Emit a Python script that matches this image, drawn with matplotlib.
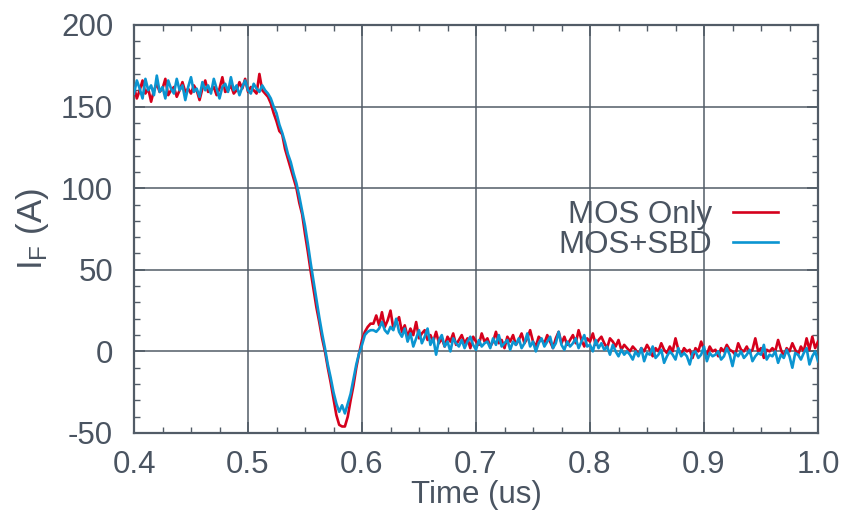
import numpy as np
import matplotlib
matplotlib.use("Agg")
import matplotlib.pyplot as plt

# time base: 0.4 .. 1.0 us, 241 samples
t_start, t_end, n_pts = 0.4, 1.0, 241

mos_only = [
    162,155,160,166,158,161,153,160,164,159,
    161,167,157,160,162,156,160,165,159,161,
    158,163,160,154,161,166,159,160,162,157,
    161,168,159,160,163,158,160,165,161,167,
    159,162,160,158,170,160,
    158,156,152,146,141,135,133,124,118,112,
    106,100,91,84,72,61,49,38,27,18,
    8,0,-10,-19,-29,-39,-45,-46,-46,-40,
    -30,-21,-10,-1,7,12,15,17,
    17,22,16,24,15,19,25,14,18,21,
    12,16,9,14,10,18,8,11,13,7,
    10,6,12,5,8,3,9,6,11,4,
    7,10,5,8,2,9,6,4,11,6,
    8,3,6,12,5,7,2,9,6,10,
    4,7,11,5,8,13,6,3,9,7,
    5,10,6,2,8,12,5,9,4,7,
    10,5,13,7,3,8,6,11,4,7,
    9,5,2,8,6,3,7,1,4,2,
    0,3,1,-2,2,0,4,1,-3,2,
    0,5,1,-1,3,0,8,1,-2,2,
    0,1,-4,2,0,6,1,-2,3,0,
    1,-3,2,0,4,1,0,-2,5,1,
    0,3,-1,1,8,0,2,-4,1,0,
    2,0,7,1,-3,2,0,5,1,-2,
    3,0,8,1,9,2,6,
]

mos_sbd = [
    158,166,161,155,167,160,163,157,169,159,
    162,155,166,161,158,167,160,163,154,162,
    168,159,161,156,165,160,163,158,167,161,
    155,162,164,159,168,160,163,157,162,166,
    160,158,164,161,159,163,
    160,158,155,150,146,139,134,128,121,116,
    109,103,95,86,77,66,54,43,32,21,
    11,2,-8,-16,-25,-32,-37,-33,-38,-32,
    -26,-17,-8,-1,4,10,12,13,
    13,12,14,18,13,11,15,13,20,12,
    9,14,6,11,3,8,13,5,9,14,
    4,8,-2,7,10,3,6,0,8,5,
    3,7,2,6,9,4,1,7,3,5,
    6,2,8,4,10,3,5,7,1,6,
    4,8,2,5,11,3,6,0,5,8,
    3,6,9,2,5,12,4,1,6,3,
    5,8,2,6,10,3,4,0,7,2,
    5,1,3,-2,4,0,-3,1,-2,0,
    -2,-5,0,-3,2,-6,-1,-2,3,-4,
    -2,1,-7,-3,0,-2,-5,2,-3,-1,
    -3,-8,-1,0,-4,-2,3,-6,-1,-3,
    -2,0,-5,-3,2,-2,-9,-1,-3,0,
    -4,-2,1,-6,-3,-1,-2,4,-5,-2,
    -3,0,-7,-2,-4,1,-3,-10,-1,-2,
    -5,-1,2,-8,-3,0,-6,
]

series_labels = ["MOS Only", "MOS+SBD"]
x_ticks = [0.4, 0.5, 0.6, 0.7, 0.8, 0.9, 1.0]
x_tick_labels = ["0.4", "0.5", "0.6", "0.7", "0.8", "0.9", "1.0"]
y_ticks = [-50, 0, 50, 100, 150, 200]

time = np.linspace(t_start, t_end, n_pts)

TXT = "#4a5461"
GRID = "#525c67"
RED = "#d5001c"
BLUE = "#0b95d1"

plt.rcParams['font.family'] = ['Liberation Sans', 'DejaVu Sans']
plt.rcParams['axes.unicode_minus'] = False

fig = plt.figure(figsize=(8.43, 5.14), dpi=100)
ax = fig.add_axes([134/843, 1-433/514, (818-134)/843, (433-25)/514])

ax.plot(time, mos_only, color=RED, lw=1.9, label=series_labels[0], zorder=3)
ax.plot(time, mos_sbd, color=BLUE, lw=1.9, label=series_labels[1], zorder=4)

ax.set_xlim(0.4, 1.0)
ax.set_ylim(-50, 200)
ax.set_xticks(x_ticks)
ax.set_xticklabels(x_tick_labels)
ax.set_yticks(y_ticks)
ax.set_xticks(np.arange(0.4, 1.0001, 0.025), minor=True)
ax.set_yticks(np.arange(-50, 200.1, 10), minor=True)

ax.grid(True, which='major', color=GRID, lw=1.1)
ax.set_axisbelow(True)
for s in ax.spines.values():
    s.set_color(GRID)
    s.set_linewidth(1.6)

ax.tick_params(which='both', direction='in', top=True, right=True, colors=GRID,
               labelcolor=TXT, labelsize=22.5)
ax.tick_params(which='major', length=8, width=1.2)
ax.tick_params(which='minor', length=4, width=1.0)
ax.tick_params(axis='x', pad=12)
ax.tick_params(axis='y', pad=15)

ax.set_xlabel("Time (us)", fontsize=22.5, color=TXT, labelpad=0)
ax.set_ylabel(r"$\mathregular{I_F}$ (A)", fontsize=25, color=TXT, labelpad=7)

leg = ax.legend(loc='center right', bbox_to_anchor=(0.9415, 0.4985), frameon=False,
                markerfirst=False, fontsize=22.5, handlelength=1.45, handletextpad=0.65,
                labelspacing=0.0, borderpad=0, borderaxespad=0)
for txt in leg.get_texts():
    txt.set_color(TXT)

fig.savefig("out.png", dpi=100)
